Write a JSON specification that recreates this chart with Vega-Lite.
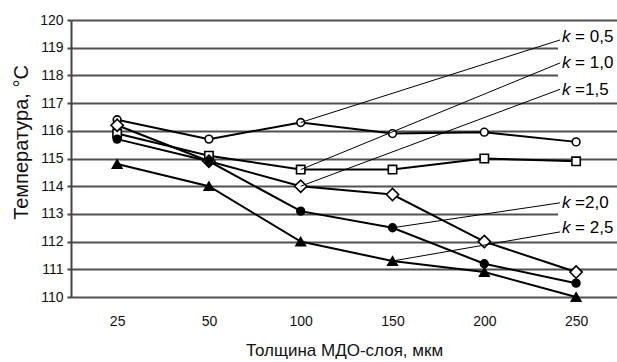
{
  "$schema": "https://vega.github.io/schema/vega-lite/v6.json",
  "width": 546,
  "height": 277,
  "autosize": {"type": "none"},
  "padding": {"left": 71, "top": 20, "right": 0, "bottom": 65},
  "background": "white",
  "config": {"view": {"stroke": null}, "font": "Liberation Sans", "axisY": {"tickCount": 12, "labelOverlap": false}},
  "datasets": {
    "series": [
      {"k": "0,5", "x": "25", "t": 116.4},
      {"k": "0,5", "x": "50", "t": 115.7},
      {"k": "0,5", "x": "100", "t": 116.3},
      {"k": "0,5", "x": "150", "t": 115.9},
      {"k": "0,5", "x": "200", "t": 115.95},
      {"k": "0,5", "x": "250", "t": 115.6},
      {"k": "1,0", "x": "25", "t": 115.9},
      {"k": "1,0", "x": "50", "t": 115.1},
      {"k": "1,0", "x": "100", "t": 114.6},
      {"k": "1,0", "x": "150", "t": 114.6},
      {"k": "1,0", "x": "200", "t": 115.0},
      {"k": "1,0", "x": "250", "t": 114.9},
      {"k": "1,5", "x": "25", "t": 116.2},
      {"k": "1,5", "x": "50", "t": 114.9},
      {"k": "1,5", "x": "100", "t": 114.0},
      {"k": "1,5", "x": "150", "t": 113.7},
      {"k": "1,5", "x": "200", "t": 112.0},
      {"k": "1,5", "x": "250", "t": 110.9},
      {"k": "2,0", "x": "25", "t": 115.7},
      {"k": "2,0", "x": "50", "t": 114.9},
      {"k": "2,0", "x": "100", "t": 113.1},
      {"k": "2,0", "x": "150", "t": 112.5},
      {"k": "2,0", "x": "200", "t": 111.2},
      {"k": "2,0", "x": "250", "t": 110.5},
      {"k": "2,5", "x": "25", "t": 114.8},
      {"k": "2,5", "x": "50", "t": 114.0},
      {"k": "2,5", "x": "100", "t": 112.0},
      {"k": "2,5", "x": "150", "t": 111.3},
      {"k": "2,5", "x": "200", "t": 110.9},
      {"k": "2,5", "x": "250", "t": 110.0}
    ],
    "labels": [
      {"k": "0,5", "txt": "= 0,5", "px": "100", "py": 116.3, "ly": 119.4, "ey": 119.28},
      {"k": "1,0", "txt": "= 1,0", "px": "100", "py": 114.6, "ly": 118.45, "ey": 118.45},
      {"k": "1,5", "txt": "=1,5", "px": "100", "py": 114.0, "ly": 117.47, "ey": 117.5},
      {"k": "2,0", "txt": "=2,0", "px": "150", "py": 112.5, "ly": 113.39, "ey": 113.4},
      {"k": "2,5", "txt": "= 2,5", "px": "150", "py": 111.3, "ly": 112.5, "ey": 112.35}
    ],
    "boxes": [
      {"y1": 119.75, "y2": 117.12},
      {"y1": 113.85, "y2": 112.12}
    ]
  },
  "layer": [
    {
      "data": {"name": "series"},
      "mark": {"type": "line", "color": "black", "strokeWidth": 2},
      "encoding": {
        "x": {
          "field": "x", "type": "ordinal",
          "scale": {"type": "point", "domain": ["25", "50", "100", "150", "200", "250"], "padding": 0.474, "align": 0.53},
          "axis": {
            "title": "Толщина МДО-слоя, мкм",
            "labelAngle": 0, "domain": false, "ticks": false, "grid": false,
            "labelFontSize": 14, "labelColor": "#111", "labelPadding": 17,
            "titleFontSize": 17, "titleFontWeight": "normal", "titleColor": "#111", "titlePadding": 14
          }
        },
        "y": {
          "field": "t", "type": "quantitative",
          "scale": {"domain": [110, 120], "nice": false, "zero": false},
          "axis": {
            "title": "Температура, °С",
            "values": [110, 111, 112, 113, 114, 115, 116, 117, 118, 119, 120],
            "tickCount": 12,
            "labelOverlap": false,
            "grid": true, "gridColor": "#505050", "gridWidth": 2, "gridOpacity": 1,
            "domain": true, "domainColor": "#444", "domainWidth": 2,
            "ticks": true, "tickSize": 4, "tickColor": "#444", "tickWidth": 2,
            "labelFontSize": 14, "labelColor": "#111", "labelPadding": 4,
            "titleFontSize": 20, "titleFontWeight": "normal", "titleColor": "#111",
            "titleX": -49.5, "titleY": 122, "titleBaseline": "middle", "titleAngle": -90
          }
        },
        "detail": {"field": "k"}
      }
    },
    {
      "data": {"name": "series"},
      "mark": {"type": "point", "stroke": "black", "strokeWidth": 1.6, "opacity": 1},
      "encoding": {
        "x": {"field": "x", "type": "ordinal"},
        "y": {"field": "t", "type": "quantitative"},
        "shape": {
          "field": "k", "type": "nominal",
          "scale": {"domain": ["0,5", "1,0", "1,5", "2,0", "2,5"], "range": ["circle", "square", "diamond", "circle", "triangle-up"]},
          "legend": null
        },
        "fill": {
          "field": "k", "type": "nominal",
          "scale": {"domain": ["0,5", "1,0", "1,5", "2,0", "2,5"], "range": ["white", "white", "white", "black", "black"]},
          "legend": null
        },
        "size": {
          "field": "k", "type": "ordinal",
          "scale": {"type": "ordinal", "domain": ["0,5", "1,0", "1,5", "2,0", "2,5"], "range": [60, 70, 150, 60, 90]},
          "legend": null
        }
      }
    },
    {
      "data": {"name": "boxes"},
      "mark": {"type": "rect", "fill": "white", "xOffset": -18, "x2Offset": 45},
      "encoding": {
        "x": {"datum": "250", "type": "ordinal"},
        "x2": {"datum": "250"},
        "y": {"field": "y1", "type": "quantitative"},
        "y2": {"field": "y2"}
      }
    },
    {
      "data": {"name": "labels"},
      "mark": {"type": "rule", "color": "black", "strokeWidth": 1, "x2Offset": -16},
      "encoding": {
        "x": {"field": "px", "type": "ordinal"},
        "y": {"field": "py", "type": "quantitative"},
        "x2": {"datum": "250"},
        "y2": {"field": "ey"}
      }
    },
    {
      "data": {"name": "labels"},
      "mark": {"type": "text", "fontStyle": "italic", "fontSize": 17, "align": "left", "baseline": "middle", "dx": -14, "color": "black"},
      "encoding": {
        "x": {"datum": "250", "type": "ordinal"},
        "y": {"field": "ly", "type": "quantitative"},
        "text": {"value": "k"}
      }
    },
    {
      "data": {"name": "labels"},
      "mark": {"type": "text", "fontSize": 17, "align": "left", "baseline": "middle", "dx": -1, "color": "black"},
      "encoding": {
        "x": {"datum": "250", "type": "ordinal"},
        "y": {"field": "ly", "type": "quantitative"},
        "text": {"field": "txt"}
      }
    }
  ]
}
